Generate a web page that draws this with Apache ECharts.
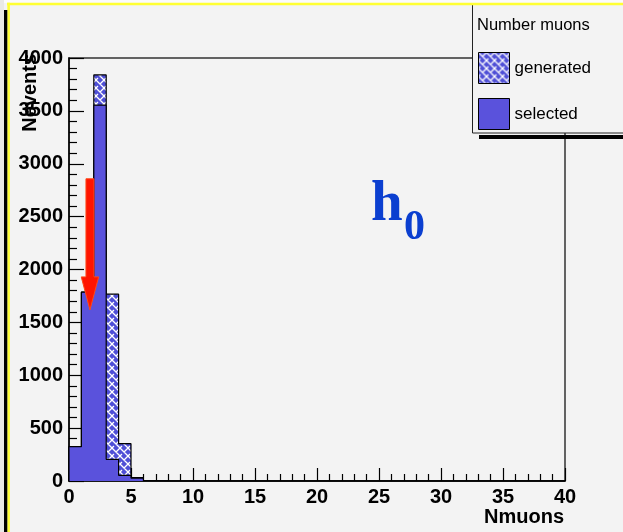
<!DOCTYPE html>
<html>
<head>
<meta charset="utf-8">
<script src="https://cdn.jsdelivr.net/npm/echarts@6/dist/echarts.min.js"></script>
<style>
html,body{margin:0;padding:0;background:#f3f3f3;}
#chart{width:623px;height:532px;}
</style>
</head>
<body>
<div id="chart"></div>
<script>
// Bin lower edges (Nmuons), bin width 1
const binEdges = Array.from({length: 40}, (_, i) => i);
// Histogram contents
const generated = [325, 1786, 3840, 1767, 353, 32, 4, 1, 0, 0,
                   0, 0, 0, 0, 0, 0, 0, 0, 0, 0,
                   0, 0, 0, 0, 0, 0, 0, 0, 0, 0,
                   0, 0, 0, 0, 0, 0, 0, 0, 0, 0];
const selected  = [325, 1786, 3555, 205, 54, 28, 3, 1, 0, 0,
                   0, 0, 0, 0, 0, 0, 0, 0, 0, 0,
                   0, 0, 0, 0, 0, 0, 0, 0, 0, 0,
                   0, 0, 0, 0, 0, 0, 0, 0, 0, 0];
const seriesNames = ['generated', 'selected'];
const xTicks = [0, 5, 10, 15, 20, 25, 30, 35, 40];
const yTicks = [0, 500, 1000, 1500, 2000, 2500, 3000, 3500, 4000];

// hatch pattern (blue with white weave)
const pc = document.createElement('canvas');
pc.width = 8; pc.height = 8;
const g = pc.getContext('2d');
g.fillStyle = '#4f4fd6';
g.fillRect(0, 0, 8, 8);
g.strokeStyle = '#ffffff';
g.lineWidth = 1.3;
g.beginPath();
g.moveTo(0, 0); g.lineTo(4, 4);
g.moveTo(4, 4); g.lineTo(8, 0);
g.moveTo(0, 8); g.lineTo(2, 6);
g.moveTo(6, 6); g.lineTo(8, 8);
g.moveTo(4, 4); g.lineTo(6, 6);
g.stroke();
const hatch = {image: pc, repeat: 'repeat'};
const solid = '#5a52dc';

function stepData(vals) {
  const d = [[binEdges[0], 0]];
  vals.forEach((v, i) => d.push([binEdges[i], v]));
  d.push([binEdges[binEdges.length - 1] + 1, vals[vals.length - 1]]);
  d.push([binEdges[binEdges.length - 1] + 1, 0]);
  return d;
}

const FONT = 'Liberation Sans';
const chart = echarts.init(document.getElementById('chart'), null, {renderer: 'canvas'});

const baseGraphics = [
  {type: 'rect', z: 50, shape: {x: 0, y: 0, width: 623, height: 3}, style: {fill: '#fbfbfb'}},
  {type: 'rect', z: 50, shape: {x: 0, y: 0, width: 4, height: 532}, style: {fill: '#e9e9e6'}},
  {type: 'rect', z: 51, shape: {x: 7, y: 2.7, width: 616, height: 2.6}, style: {fill: '#ffff33'}},
  {type: 'rect', z: 51, shape: {x: 7.3, y: 2.7, width: 2.6, height: 530}, style: {fill: '#ffff33'}},
  {type: 'rect', z: 51, shape: {x: 4, y: 10, width: 3.3, height: 522}, style: {fill: '#000'}},
  // legend box with shadow
  {type: 'rect', z: 10, shape: {x: 479, y: 135, width: 150, height: 4}, style: {fill: '#000'}},
  {type: 'rect', z: 11, shape: {x: 472.5, y: -5, width: 160, height: 138}, style: {fill: '#f3f3f3', stroke: '#222', lineWidth: 1}},
  {type: 'text', z: 12, x: 477, y: 25, style: {text: 'Number muons', font: '16.5px "Liberation Sans"', fill: '#000', textVerticalAlign: 'middle'}},
  // axis titles
  {type: 'text', z: 12, x: 30, y: 54, rotation: Math.PI / 2, style: {text: 'Nevents', font: 'bold 20px "Liberation Sans"', fill: '#000', textAlign: 'right', textVerticalAlign: 'middle'}},
  {type: 'text', z: 12, x: 564, y: 517, style: {text: 'Nmuons', font: 'bold 20px "Liberation Sans"', fill: '#000', textAlign: 'right', textVerticalAlign: 'middle'}},
  // h0 label
  {type: 'text', z: 12, x: 371, y: 205, style: {text: 'h', font: 'bold 57px "Liberation Serif"', fill: '#0b3fd0', textVerticalAlign: 'middle'}},
  {type: 'text', z: 12, x: 404, y: 228, style: {text: '0', font: 'bold 42px "Liberation Serif"', fill: '#0b3fd0', textVerticalAlign: 'middle'}}
];

chart.setOption({
  backgroundColor: '#f3f3f3',
  animation: false,
  grid: {left: 69, right: 58, top: 58, bottom: 51, show: true, borderColor: '#333', borderWidth: 1.5, backgroundColor: 'transparent'},
  legend: {
    z: 20, orient: 'vertical', left: 478, top: 52, padding: 0,
    itemWidth: 31, itemHeight: 31, itemGap: 14, icon: 'rect', selectedMode: false,
    textStyle: {fontFamily: FONT, fontSize: 17, color: '#000'},
    data: [
      {name: seriesNames[0], itemStyle: {color: hatch, borderColor: '#000', borderWidth: 1}},
      {name: seriesNames[1], itemStyle: {color: solid, borderColor: '#000', borderWidth: 1}}
    ]
  },
  xAxis: {
    type: 'value', min: xTicks[0], max: xTicks[xTicks.length - 1], interval: 5,
    axisLine: {lineStyle: {color: '#000', width: 1.5}},
    axisTick: {inside: true, length: 13, lineStyle: {color: '#000', width: 1.2}},
    minorTick: {show: true, splitNumber: 5, length: 7, lineStyle: {color: '#000', width: 1.2}},
    splitLine: {show: false},
    axisLabel: {fontFamily: FONT, fontWeight: 'bold', fontSize: 20, color: '#000', margin: 6, formatter: v => String(v)}
  },
  yAxis: {
    type: 'value', min: yTicks[0], max: yTicks[yTicks.length - 1], interval: 500,
    axisLine: {show: true, lineStyle: {color: '#000', width: 1.5}},
    axisTick: {show: true, inside: true, length: 15, lineStyle: {color: '#000', width: 1.2}},
    minorTick: {show: true, splitNumber: 5, length: 8, lineStyle: {color: '#000', width: 1.2}},
    splitLine: {show: false},
    axisLabel: {fontFamily: FONT, fontWeight: 'bold', fontSize: 20, color: '#000', margin: 6, formatter: v => String(v)}
  },
  series: [
    {
      name: seriesNames[0], type: 'line', step: 'end', symbol: 'none', z: 2,
      data: stepData(generated),
      lineStyle: {color: '#000', width: 1.2},
      itemStyle: {color: '#4f4fd6'},
      areaStyle: {color: hatch, opacity: 1}
    },
    {
      name: seriesNames[1], type: 'line', step: 'end', symbol: 'none', z: 3,
      data: stepData(selected),
      lineStyle: {color: '#000', width: 1.2},
      itemStyle: {color: solid},
      areaStyle: {color: solid, opacity: 1}
    }
  ],
  graphic: {elements: baseGraphics}
});

// red arrow annotation placed via data coordinates
const toPx = (x, y) => chart.convertToPixel({gridIndex: 0}, [x, y]);
const arrTop = toPx(1.69, 2858), arrBase = toPx(1.69, 1930), arrTip = toPx(1.69, 1618);
const cx = arrTop[0];
const arrow = {
  type: 'polygon', z: 30,
  shape: {points: [
    [cx - 4, arrTop[1]], [cx + 4, arrTop[1]], [cx + 4, arrBase[1]], [cx + 8.7, arrBase[1]],
    [cx, arrTip[1]], [cx - 8.7, arrBase[1]], [cx - 4, arrBase[1]]
  ]},
  style: {fill: '#ff1400', stroke: '#ff4a1a', lineWidth: 1}
};
chart.setOption({graphic: {elements: baseGraphics.concat([arrow])}});
</script>
</body>
</html>
